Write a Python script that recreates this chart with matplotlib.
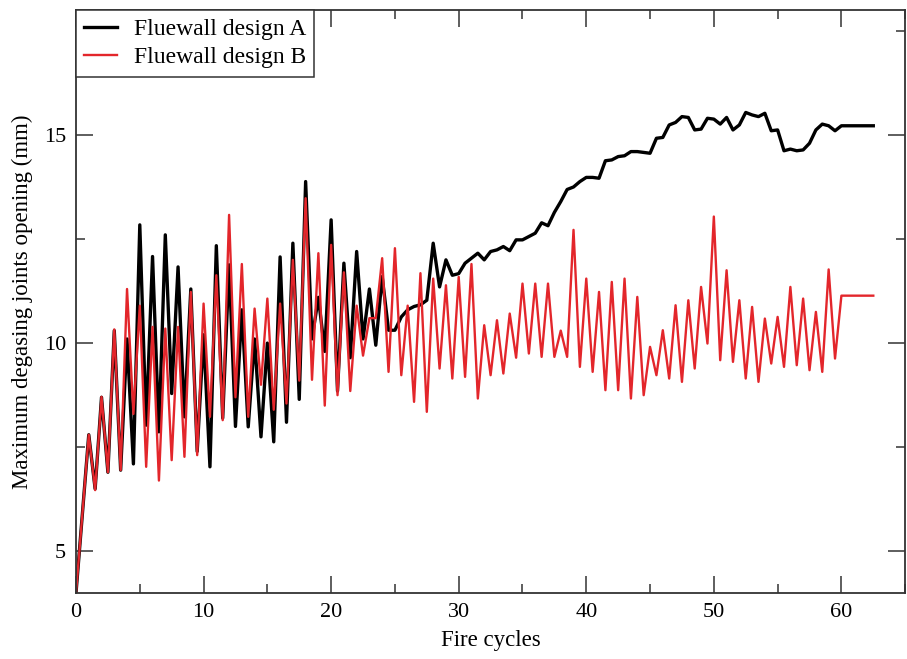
import matplotlib.pyplot as plt
import numpy as np

# fire cycles, half-cycle steps up to 60, then the last value held to 62.5
ciclos = list(np.arange(0, 60.5, 0.5)) + [62.5]

design_a = [
    4.0, 5.9, 7.8, 6.5, 8.7, 6.9, 10.3, 6.95, 10.1, 7.1,
    12.84, 8.03, 12.08, 7.87, 12.6, 8.79, 11.83, 8.23, 11.3, 7.4,
    10.2, 7.03, 12.34, 8.2, 11.88, 8.0, 10.8, 7.99, 10.1, 7.75,
    10.0, 7.63, 12.07, 8.1, 12.4, 8.65, 13.88, 10.1, 11.1, 9.8,
    12.96, 8.85, 11.92, 9.65, 12.2, 10.1, 11.3, 9.95, 11.6, 10.31,
    10.31, 10.63, 10.8, 10.88, 10.92, 11.03, 12.4, 11.35, 12.0, 11.63,
    11.67, 11.92, 12.04, 12.16, 12.0, 12.2, 12.24, 12.32, 12.22, 12.48,
    12.48, 12.56, 12.64, 12.89, 12.82, 13.14, 13.4, 13.69, 13.75, 13.88,
    13.98, 13.98, 13.96, 14.38, 14.4, 14.48, 14.5, 14.6, 14.6, 14.58,
    14.56, 14.92, 14.94, 15.24, 15.3, 15.44, 15.42, 15.12, 15.14, 15.4,
    15.38, 15.26, 15.42, 15.12, 15.24, 15.54, 15.48, 15.44, 15.52, 15.1,
    15.12, 14.62, 14.66, 14.62, 14.64, 14.8, 15.12, 15.26, 15.22, 15.1,
    15.22, 15.22,
]

design_b = [
    4.0, 5.9, 7.8, 6.47, 8.71, 6.9, 10.33, 6.95, 11.3, 8.3,
    10.9, 7.03, 10.39, 6.7, 10.35, 7.19, 10.39, 7.27, 11.23, 7.31,
    10.95, 8.23, 11.63, 8.15, 13.08, 8.7, 11.9, 8.23, 10.83, 9.0,
    11.07, 8.4, 10.95, 8.55, 12.0, 9.1, 13.48, 9.12, 12.16, 8.5,
    12.36, 8.75, 11.7, 8.85, 10.9, 9.7, 10.6, 10.6, 12.04, 9.31,
    12.28, 9.23, 10.9, 8.59, 11.68, 8.35, 11.55, 9.39, 11.39, 9.15,
    11.59, 9.19, 11.9, 8.67, 10.43, 9.23, 10.55, 9.27, 10.71, 9.65,
    11.43, 9.75, 11.43, 9.67, 11.43, 9.67, 10.3, 9.67, 12.72, 9.43,
    11.55, 9.31, 11.23, 8.87, 11.47, 8.87, 11.55, 8.67, 11.11, 8.75,
    9.91, 9.23, 10.31, 9.15, 10.91, 9.07, 11.03, 9.39, 11.35, 9.99,
    13.04, 9.59, 11.75, 9.55, 11.03, 9.15, 10.87, 9.07, 10.59, 9.51,
    10.63, 9.43, 11.35, 9.47, 11.07, 9.35, 10.75, 9.31, 11.77, 9.63,
    11.14, 11.14,
]

plt.rcParams['font.family'] = ['Liberation Serif', 'DejaVu Serif']

fig = plt.figure(figsize=(9.07, 6.59), dpi=100)
ax = fig.add_axes([0.0838, 0.1002, 0.9142, 0.8846])

ax.plot(ciclos, design_a, color='black', lw=2.4, label='Fluewall design A')
ax.plot(ciclos, design_b, color='#e3262b', lw=1.7, label='Fluewall design B')

ax.set_xlim(0, 65)
ax.set_ylim(4, 18)
ax.set_xticks([0, 10, 20, 30, 40, 50, 60])
ax.set_xticks([5, 15, 25, 35, 45, 55, 65], minor=True)
ax.set_yticks([5, 10, 15])
ax.set_yticks([7.5, 12.5, 17.5], minor=True)
ax.tick_params(which='both', direction='in', top=True, right=True,
               labelsize=16, width=1.1, color='#333333')
ax.tick_params(which='major', length=12, pad=7)
ax.tick_params(which='minor', length=6.5)
for s in ax.spines.values():
    s.set_linewidth(1.3)
    s.set_color('#333333')

ax.set_xlabel('Fire cycles', fontsize=16.5, labelpad=6)
ax.set_ylabel('Maximum degasing joints opening (mm)', fontsize=16.5, labelpad=8)

leg = ax.legend(loc='upper left', fontsize=17, fancybox=False, framealpha=1,
                edgecolor='#333333', borderaxespad=0, handlelength=1.4,
                handletextpad=0.7, borderpad=0.35, labelspacing=0.3)
leg.get_frame().set_linewidth(1.1)

plt.savefig('out.png')
